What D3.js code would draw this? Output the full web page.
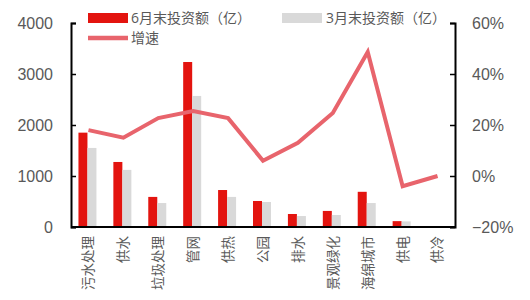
<!DOCTYPE html>
<html><head><meta charset="utf-8">
<script src="https://cdn.jsdelivr.net/npm/d3@7"></script>
<style>
body{margin:0;background:#fff;}
svg{font-family:"Open Sans","Noto Sans CJK SC",sans-serif;}
</style></head>
<body><svg id="c" width="530" height="300"></svg>
<script>
const categories = ["污水处理","供水","垃圾处理","管网","供热","公园","排水","景观绿化","海绵城市","供电","供冷"];
const juneValues = [1850,1275,590,3235,725,510,255,315,690,115,10];
const marchValues = [1550,1120,470,2570,590,490,215,235,470,110,5];
const growth = [0.18,0.15,0.227,0.255,0.227,0.06,0.13,0.247,0.486,-0.04,0.0];
const leftTicks = [0,1000,2000,3000,4000];
const rightTicks = [-0.2,0,0.2,0.4,0.6];
const seriesNames = ["6月末投资额（亿）","3月末投资额（亿）","增速"];

const svg = d3.select("#c");
const m = {l:71, r:455, t:23, b:227};
const x = d3.scaleBand().domain(categories).range([m.l, m.r]);
const yL = d3.scaleLinear().domain([0,4000]).range([m.b, m.t]);
const yR = d3.scaleLinear().domain([-0.2,0.6]).range([m.b, m.t]);

const red = "#E3140F", grey = "#D9D9D9", lineC = "#E8646C";
const bw = 9;

// bars: June (red) and March (grey) side by side
svg.append("g").selectAll("rect").data(categories).join("rect")
  .attr("x", (d)=>x(d)+x.bandwidth()/2 - bw - 1)
  .attr("y", (d,i)=>yL(juneValues[i]))
  .attr("width", bw).attr("height", (d,i)=>m.b - yL(juneValues[i]))
  .attr("fill", red);
svg.append("g").selectAll("rect").data(categories).join("rect")
  .attr("x", (d)=>x(d)+x.bandwidth()/2 - 1)
  .attr("y", (d,i)=>yL(marchValues[i]))
  .attr("width", bw).attr("height", (d,i)=>m.b - yL(marchValues[i]))
  .attr("fill", grey);

// growth rate line on the right axis
const line = d3.line().x((d,i)=>x(categories[i])+x.bandwidth()/2).y(d=>yR(d));
svg.append("path").datum(growth).attr("d", line)
  .attr("fill","none").attr("stroke", lineC).attr("stroke-width",4).attr("stroke-linejoin","miter");

// axes
const axL = svg.append("g").attr("transform",`translate(${m.l},0)`)
  .call(d3.axisRight(yL).tickValues(leftTicks).tickSize(5).tickFormat(d3.format("d")));
const axR = svg.append("g").attr("transform",`translate(${m.r},0)`)
  .call(d3.axisLeft(yR).tickValues(rightTicks).tickSize(5).tickFormat(d3.format(".0%")));
[axL, axR].forEach(a=>{
  a.select(".domain").attr("stroke","#000").attr("stroke-width",2);
  a.selectAll(".tick line").attr("stroke","#000").attr("stroke-width",1.5);
  a.selectAll(".tick text").attr("fill","#595959").style("font-size","16px");
});
axL.selectAll(".tick text").attr("x",-18).attr("text-anchor","end");
axR.selectAll(".tick text").attr("x",17).attr("text-anchor","start");
svg.append("line").attr("x1",m.l).attr("x2",m.r).attr("y1",m.b).attr("y2",m.b)
  .attr("stroke","#000").attr("stroke-width",2);

// category labels, rotated to read bottom-to-top
svg.append("g").selectAll("text").data(categories).join("text")
  .attr("transform", d=>`translate(${x(d)+x.bandwidth()/2},236) rotate(-90)`)
  .attr("text-anchor","end").attr("dy","0.36em")
  .attr("fill","#595959").style("font-size","13.5px")
  .style("font-family","'Noto Sans CJK SC'")
  .text(d=>d);

// legend
const lg = svg.append("g").style("font-size","14px").attr("fill","#595959");
lg.append("rect").attr("x",88).attr("y",13).attr("width",40).attr("height",10).attr("fill",red);
lg.append("text").attr("x",131).attr("y",23).text(seriesNames[0]);
lg.append("rect").attr("x",282).attr("y",13).attr("width",40).attr("height",10).attr("fill",grey);
lg.append("text").attr("x",326).attr("y",23).text(seriesNames[1]);
lg.append("line").attr("x1",88).attr("x2",128).attr("y1",38).attr("y2",38)
  .attr("stroke",lineC).attr("stroke-width",4.5);
lg.append("text").attr("x",131).attr("y",43).text(seriesNames[2]);
</script></body></html>
